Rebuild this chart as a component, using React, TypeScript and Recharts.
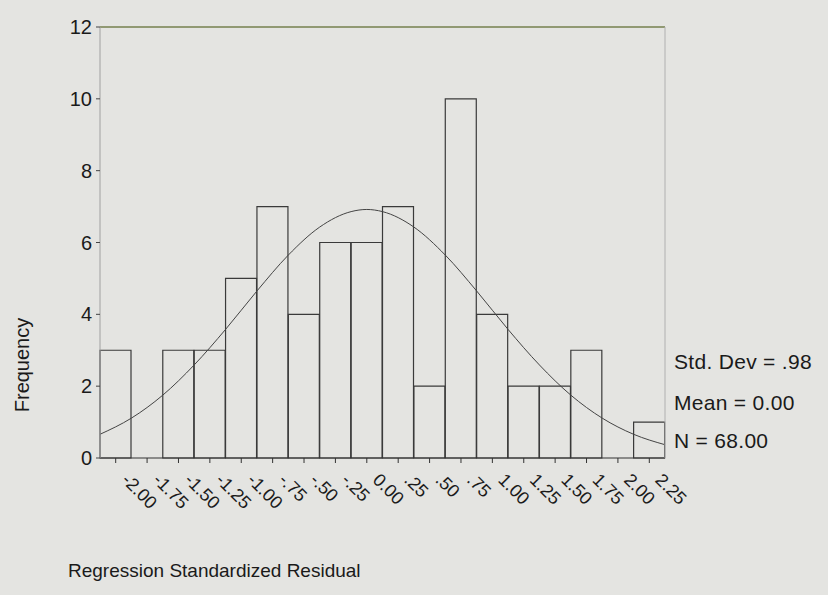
import { ComposedChart, Bar, Line, XAxis, YAxis, ReferenceLine } from 'recharts';

// histogram bins (centres) and counts
const binLabels = [
  '-2.00', '-1.75', '-1.50', '-1.25', '-1.00', '-.75', '-.50', '-.25', '0.00',
  '.25', '.50', '.75', '1.00', '1.25', '1.50', '1.75', '2.00', '2.25',
];
const frequencies = [3, 0, 3, 3, 5, 7, 4, 6, 6, 7, 2, 10, 4, 2, 2, 3, 0, 1];

// normal curve, read at the bin edges (plus the peak)
const curveX = [
  -2.125, -1.875, -1.625, -1.375, -1.125, -0.875, -0.625, -0.375, -0.125, 0,
  0.125, 0.375, 0.625, 0.875, 1.125, 1.375, 1.625, 1.875, 2.125, 2.375,
];
const curveY = [
  0.66, 1.11, 1.75, 2.59, 3.58, 4.65, 5.65, 6.43, 6.86, 6.92,
  6.86, 6.43, 5.65, 4.65, 3.58, 2.59, 1.75, 1.11, 0.66, 0.37,
];

const yTicks = [0, 2, 4, 6, 8, 10, 12];

const histData = binLabels.map((label, i) => ({ label, freq: frequencies[i] }));
const curveData = curveX.map((x, i) => ({ x, y: curveY[i] }));

const font = "Arial, 'Liberation Sans', sans-serif";

// eslint-disable-next-line @typescript-eslint/no-explicit-any
const XTick = (props: any) => {
  const { x, y, payload } = props;
  const tx = x + 5;
  const ty = y + 16;
  return (
    <text
      x={tx}
      y={ty}
      transform={`rotate(45, ${tx}, ${ty})`}
      fontSize={18}
      fill="#1a1a1a"
      fontFamily={font}
    >
      {payload.value}
    </text>
  );
};

export default function App() {
  return (
    <div
      style={{
        position: 'absolute',
        left: 0,
        top: 0,
        width: 828,
        height: 595,
        background: '#e4e4e1',
        fontFamily: font,
        color: '#1a1a1a',
      }}
    >
      <ComposedChart
        width={828}
        height={595}
        data={histData}
        margin={{ top: 27, right: 162, left: 40, bottom: 77 }}
        barCategoryGap={0}
        barGap={0}
      >
        <XAxis
          dataKey="label"
          interval={0}
          height={60}
          tickSize={5}
          tickMargin={2}
          tick={<XTick />}
          axisLine={{ stroke: '#333' }}
          tickLine={{ stroke: '#333' }}
        />
        <XAxis
          xAxisId="curve"
          dataKey="x"
          type="number"
          domain={[-2.125, 2.375]}
          allowDataOverflow
          hide
        />
        <YAxis
          domain={[0, 12]}
          ticks={yTicks}
          width={60}
          tickSize={4}
          tickMargin={4}
          axisLine={{ stroke: '#a0a0a0' }}
          tickLine={{ stroke: '#444' }}
          tick={{ fontSize: 20, fill: '#1a1a1a', fontFamily: font }}
        />
        <YAxis
          yAxisId="right"
          orientation="right"
          width={1}
          tick={false}
          tickLine={false}
          axisLine={{ stroke: '#b0b0b0' }}
        />
        <ReferenceLine y={12} stroke="#76804e" strokeWidth={1.5} />
        <Bar
          dataKey="freq"
          fill="none"
          stroke="#3a3a3a"
          strokeWidth={1.2}
          isAnimationActive={false}
        />
        <Line
          xAxisId="curve"
          data={curveData}
          dataKey="y"
          type="monotone"
          dot={false}
          stroke="#444"
          strokeWidth={1}
          isAnimationActive={false}
        />
      </ComposedChart>

      <div
        style={{
          position: 'absolute',
          left: 22,
          top: 365,
          transform: 'translate(-50%, -50%) rotate(-90deg)',
          fontSize: 20,
          whiteSpace: 'nowrap',
        }}
      >
        Frequency
      </div>
      <div style={{ position: 'absolute', left: 68, top: 560, fontSize: 19, whiteSpace: 'nowrap' }}>
        Regression Standardized Residual
      </div>

      <div style={{ position: 'absolute', left: 674, top: 350, fontSize: 21, letterSpacing: 0.3, whiteSpace: 'nowrap' }}>
        Std. Dev = .98
      </div>
      <div style={{ position: 'absolute', left: 674, top: 391, fontSize: 21, letterSpacing: 0.3, whiteSpace: 'nowrap' }}>
        Mean = 0.00
      </div>
      <div style={{ position: 'absolute', left: 674, top: 429, fontSize: 21, letterSpacing: 0.3, whiteSpace: 'nowrap' }}>
        N = 68.00
      </div>
    </div>
  );
}
